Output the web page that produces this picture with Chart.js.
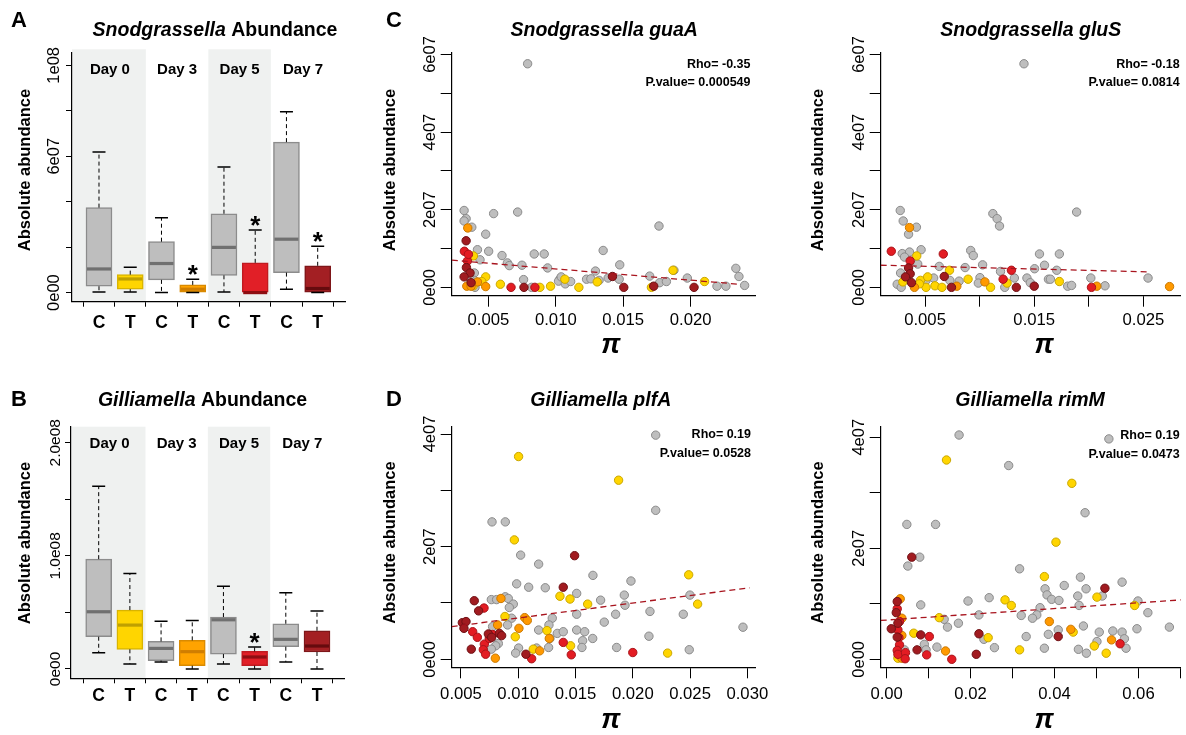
<!DOCTYPE html>
<html><head><meta charset="utf-8">
<script src="https://cdn.jsdelivr.net/npm/chart.js@4.4.1/dist/chart.umd.min.js"></script>
<style>
html,body{margin:0;padding:0;background:#fff;width:1186px;height:735px;overflow:hidden}
canvas{position:absolute;left:0;top:0}
</style></head><body>
<canvas id="cA" width="1186" height="735"></canvas>
<canvas id="cB" width="1186" height="735"></canvas>
<canvas id="cC1" width="1186" height="735"></canvas>
<canvas id="cC2" width="1186" height="735"></canvas>
<canvas id="cD1" width="1186" height="735"></canvas>
<canvas id="cD2" width="1186" height="735"></canvas>
<script>
// ================= DATA =================
const boxGroups = ['C','T','C','T','C','T','C','T'];
const days = ['Day 0','Day 3','Day 5','Day 7'];

// Snodgrassella abundance boxplot stats (per group, in order of boxGroups)
const snodLow  = [0.3e6, 0.3e6, 0,      0,     0.3e6,  0,      1.5e6,  0];
const snodQ1   = [2.8e6, 1.5e6, 5.6e6,  0,     7.6e6,  0,      8.8e6,  0];
const snodMed  = [10.4e6,6.0e6, 12.8e6, 1.5e6, 19.9e6, 0,      23.5e6, 1.8e6];
const snodQ3   = [37.4e6,7.9e6, 22.4e6, 3.4e6, 34.7e6, 13.1e6, 66.2e6, 11.8e6];
const snodHigh = [61.9e6,11.2e6,32.9e6, 5.9e6, 55.3e6, 27.5e6, 79.6e6, 20.4e6];
const snodSig  = [0,0,0,1,0,1,0,1];

// Gilliamella abundance boxplot stats
const gilLow  = [14.4e6, 4.4e6, 6.2e6, 0,      4.4e6,  0,      6.2e6,  0];
const gilQ1   = [28.5e6, 17.4e6,7.4e6, 2.9e6,  13.2e6, 2.9e6,  19.7e6, 15.0e6];
const gilMed  = [50.6e6, 38.8e6,18.2e6,15.3e6, 43.5e6, 10.6e6, 26.2e6, 20.3e6];
const gilQ3   = [97.1e6, 52.1e6,24.4e6,25.3e6, 45.9e6, 15.6e6, 40.0e6, 33.8e6];
const gilHigh = [161.5e6,84.4e6,42.1e6,42.9e6, 73.2e6, 19.4e6, 67.4e6, 51.2e6];
const gilSig  = [0,0,0,0,0,1,0,0];

// tick values and labels
const snodBoxTicks = [0,2e7,4e7,6e7,8e7,1e8];
const snodBoxLabels = ['0e00','','','6e07','','1e08'];
const gilBoxTicks = [0,5e7,1e8,1.5e8,2e8];
const gilBoxLabels = ['0e00','','1.0e08','','2.0e08'];
const cYTicks = [0,1e7,2e7,3e7,4e7,5e7,6e7];
const cYLabels = ['0e00','','2e07','','4e07','','6e07'];
const dYTicks = [0,1e7,2e7,3e7,4e7];
const dYLabels = ['0e00','','2e07','','4e07'];
const guaAXTicks = [0.005,0.010,0.015,0.020];
const guaAXLabels = ['0.005','0.010','0.015','0.020'];
const gluSXTicks = [0.005,0.010,0.015,0.020,0.025];
const gluSXLabels = ['0.005','','0.015','','0.025'];
const plfAXTicks = [0.005,0.010,0.015,0.020,0.025,0.030];
const plfAXLabels = ['0.005','0.010','0.015','0.020','0.025','0.030'];
const rimMXTicks = [0,0.01,0.02,0.03,0.04,0.05,0.06,0.07];
const rimMXLabels = ['0.00','','0.02','','0.04','','0.06',''];

// Scatter: [pi, absolute abundance]; groups: control(gray), T day0(yellow), T day3(orange), T day5(red), T day7(dark red)
const guaA_C = [[0.00791,57.6e6],[0.0032,19.8e6],[0.00335,17.7e6],[0.0032,17.1e6],[0.00377,15.5e6],[0.00539,19.0e6],[0.00717,19.4e6],[0.0048,13.7e6],[0.00419,9.7e6],[0.00502,9.3e6],[0.00438,7.1e6],[0.00601,8.2e6],[0.00641,6.3e6],[0.00655,5.6e6],[0.00749,5.7e6],[0.0084,8.6e6],[0.00914,8.6e6],[0.00939,5.0e6],[0.00761,2.0e6],[0.0082,0],[0.00396,3.7e6],[0.00396,1.8e6],[0.00401,0],[0.0103,2.1e6],[0.0102,1.6e6],[0.0107,0.9e6],[0.0111,1.5e6],[0.01228,2.1e6],[0.0126,2.2e6],[0.01321,1.8e6],[0.01294,4.2e6],[0.01388,2.4e6],[0.01351,9.5e6],[0.0147,2.1e6],[0.01474,5.8e6],[0.01696,2.9e6],[0.01765,15.8e6],[0.0177,1.2e6],[0.0182,1.5e6],[0.01876,4.4e6],[0.01975,2.4e6],[0.02195,0.3e6],[0.02261,0.3e6],[0.02335,4.9e6],[0.02358,2.8e6],[0.0240,0.5e6],[0.0104,2.7e6],[0.0037,1.8e6]];
const guaA_D0 = [[0.00389,8.1e6],[0.0048,2.7e6],[0.00451,1.5e6],[0.00589,0.8e6],[0.00882,0],[0.00961,0.3e6],[0.01067,2.1e6],[0.01171,0],[0.01307,1.4e6],[0.01709,0],[0.01869,4.4e6],[0.02103,1.5e6],[0.00387,0.4e6]];
const guaA_D3 = [[0.00347,15.3e6],[0.00419,1.4e6],[0.0048,0.2e6],[0.0034,0.3e6],[0.00372,0.3e6]];
const guaA_D5 = [[0.00322,9.3e6],[0.00345,6.8e6],[0.00352,8.5e6],[0.00668,0],[0.00845,0]];
const guaA_D7 = [[0.00335,12.0e6],[0.00337,5.1e6],[0.00364,3.7e6],[0.0032,2.7e6],[0.00372,1.2e6],[0.00764,0],[0.0142,2.8e6],[0.01504,0],[0.01726,0.3e6],[0.02025,0]];
const guaA_fit = [[0.00229,7.0e6],[0.0236,0.8e6]];

const gluS_C = [[0.01406,57.6e6],[0.00273,19.8e6],[0.003,17.1e6],[0.00349,13.7e6],[0.00421,15.5e6],[0.01121,19.0e6],[0.0116,17.7e6],[0.01182,15.8e6],[0.01888,19.4e6],[0.00291,8.7e6],[0.00358,9.1e6],[0.00464,9.7e6],[0.00433,6.0e6],[0.00312,7.8e6],[0.00276,3.7e6],[0.00245,0.8e6],[0.00282,0],[0.00333,2.2e6],[0.00579,2.4e6],[0.0063,5.4e6],[0.00727,1.8e6],[0.00812,1.6e6],[0.00867,5.1e6],[0.00918,9.5e6],[0.00942,8.2e6],[0.01027,5.8e6],[0.01003,2.5e6],[0.00988,1.1e6],[0.01191,4.1e6],[0.0123,0],[0.01318,2.4e6],[0.01433,2.4e6],[0.01464,1.2e6],[0.01503,4.8e6],[0.01548,8.6e6],[0.01594,5.7e6],[0.0163,2.1e6],[0.01648,2.1e6],[0.01706,4.4e6],[0.0173,8.6e6],[0.01806,0.3e6],[0.01842,0.5e6],[0.02018,2.4e6],[0.02148,0.4e6],[0.02542,2.4e6],[0.0051,1.8e6]];
const gluS_D0 = [[0.00424,8.1e6],[0.00297,1.4e6],[0.00458,1.8e6],[0.00524,2.7e6],[0.00509,0],[0.00591,0.4e6],[0.00655,0],[0.00724,4.4e6],[0.00894,2.1e6],[0.011,0],[0.01251,1.1e6],[0.0173,1.5e6],[0.00448,0.9e6]];
const gluS_D3 = [[0.00358,15.4e6],[0.00403,0],[0.00791,0.3e6],[0.01048,1.4e6],[0.02073,0.3e6],[0.02739,0.2e6]];
const gluS_D5 = [[0.00191,9.3e6],[0.00364,6.8e6],[0.00667,8.6e6],[0.01215,2.1e6],[0.01291,4.4e6],[0.02024,0]];
const gluS_D7 = [[0.00349,5.0e6],[0.00364,3.5e6],[0.00321,2.7e6],[0.00376,1.2e6],[0.00676,2.8e6],[0.00742,0],[0.01336,0],[0.015,0.3e6]];
const gluS_fit = [[0.00094,5.7e6],[0.02548,4.0e6]];

const plfA_C = [[0.022,39.8e6],[0.022,26.45e6],[0.00771,24.4e6],[0.00887,24.4e6],[0.01021,18.5e6],[0.01178,16.9e6],[0.01652,14.9e6],[0.01984,13.9e6],[0.00986,13.4e6],[0.01091,12.8e6],[0.01236,12.7e6],[0.0151,11.7e6],[0.00765,10.6e6],[0.00811,10.6e6],[0.00887,11.1e6],[0.00913,10.8e6],[0.00957,9.8e6],[0.00922,9.2e6],[0.01719,10.5e6],[0.01926,11.4e6],[0.01932,9.6e6],[0.0215,8.5e6],[0.02441,8.0e6],[0.02499,11.4e6],[0.0151,8.0e6],[0.0185,8.0e6],[0.01297,7.3e6],[0.01268,6.1e6],[0.00942,7.3e6],[0.00907,6.1e6],[0.00776,5.8e6],[0.01178,5.2e6],[0.01341,4.6e6],[0.01393,4.9e6],[0.0151,5.2e6],[0.0158,4.9e6],[0.0165,3.7e6],[0.01751,6.6e6],[0.01562,3.3e6],[0.01556,2.1e6],[0.01277,3.7e6],[0.01265,2.1e6],[0.01003,2.0e6],[0.00977,1.1e6],[0.00826,2.8e6],[0.00803,2.4e6],[0.00765,1.8e6],[0.01859,2.1e6],[0.02141,4.1e6],[0.02493,1.7e6],[0.02962,5.7e6],[0.0116,2.0e6]];
const plfA_D0 = [[0.01003,36.0e6],[0.01876,31.8e6],[0.00966,21.2e6],[0.02488,15.0e6],[0.02566,9.8e6],[0.01364,11.2e6],[0.01452,10.7e6],[0.01606,9.8e6],[0.00884,7.6e6],[0.00974,4.0e6],[0.01251,5.1e6],[0.01457,2.4e6],[0.01131,1.8e6],[0.02304,1.1e6]];
const plfA_D3 = [[0.00849,10.8e6],[0.01056,7.4e6],[0.01079,6.9e6],[0.01006,5.5e6],[0.0082,6.1e6],[0.01271,3.7e6],[0.01187,1.5e6],[0.008,0.2e6]];
const plfA_D5 = [[0.00701,9.1e6],[0.00602,4.9e6],[0.00643,3.9e6],[0.00704,2.7e6],[0.00695,1.7e6],[0.00715,0.9e6],[0.00747,3.7e6],[0.00776,4.4e6],[0.01393,3.0e6],[0.01463,0.8e6],[0.01117,0.1e6],[0.02,1.2e6]];
const plfA_D7 = [[0.00616,10.4e6],[0.00654,8.6e6],[0.01492,18.4e6],[0.01393,12.8e6],[0.00512,6.5e6],[0.00544,6.7e6],[0.00526,5.5e6],[0.00739,4.5e6],[0.00835,4.6e6],[0.00855,4.2e6],[0.00768,3.9e6],[0.0059,1.8e6],[0.01067,0.9e6]];
const plfA_fit = [[0.00419,5.8e6],[0.0302,12.7e6]];

const rimM_C = [[0.01726,40.4e6],[0.05296,39.7e6],[0.02908,34.9e6],[0.04728,26.4e6],[0.00481,24.3e6],[0.01166,24.3e6],[0.00788,18.4e6],[0.00504,16.8e6],[0.03168,16.3e6],[0.03775,12.7e6],[0.04232,13.3e6],[0.04618,14.8e6],[0.04752,12.7e6],[0.05611,13.9e6],[0.03822,11.6e6],[0.03932,10.8e6],[0.04106,10.6e6],[0.04554,11.4e6],[0.04586,9.7e6],[0.05138,11.4e6],[0.05989,10.5e6],[0.06225,8.4e6],[0.06738,5.8e6],[0.01939,10.5e6],[0.02443,11.1e6],[0.02199,8.0e6],[0.03656,9.3e6],[0.03578,8.0e6],[0.03475,7.4e6],[0.03207,7.9e6],[0.00812,9.8e6],[0.0171,6.5e6],[0.01371,7.2e6],[0.0145,5.8e6],[0.00898,2.7e6],[0.00938,1.7e6],[0.01198,2.2e6],[0.02317,3.6e6],[0.02569,2.1e6],[0.03325,4.1e6],[0.03759,2.0e6],[0.03853,4.5e6],[0.04089,5.3e6],[0.04689,6.0e6],[0.0457,1.8e6],[0.0476,1.1e6],[0.05012,3.2e6],[0.05067,4.9e6],[0.0539,5.1e6],[0.05611,4.9e6],[0.05666,3.7e6],[0.05705,2.0e6],[0.05965,5.5e6],[0.00426,1.7e6]];
const rimM_D0 = [[0.01426,35.9e6],[0.04413,31.7e6],[0.04035,21.1e6],[0.03759,14.9e6],[0.02821,10.7e6],[0.02971,9.7e6],[0.05012,11.2e6],[0.0591,9.7e6],[0.01253,7.5e6],[0.00646,4.7e6],[0.02419,3.9e6],[0.04445,4.9e6],[0.04949,2.4e6],[0.03168,1.7e6],[0.05232,1.1e6],[0.00268,0.2e6]];
const rimM_D3 = [[0.00323,10.9e6],[0.00362,7.4e6],[0.00362,4.3e6],[0.03877,6.8e6],[0.04389,5.4e6],[0.05359,3.5e6],[0.01403,1.5e6],[0.00362,0.2e6]];
const rimM_D5 = [[0.00252,9.1e6],[0.00307,6.8e6],[0.00268,5.3e6],[0.00292,3.9e6],[0.00307,2.6e6],[0.00252,1.6e6],[0.00268,0.9e6],[0.00449,1.2e6],[0.00441,0.1e6],[0.01017,4.1e6],[0.00954,0.8e6],[0.01552,0],[0.05563,2.8e6]];
const rimM_D7 = [[0.00599,18.4e6],[0.00252,10.4e6],[0.00229,8.4e6],[0.0011,5.5e6],[0.00268,6.5e6],[0.00252,4.0e6],[0.00812,4.4e6],[0.00725,1.7e6],[0.02199,4.6e6],[0.02136,0.9e6],[0.04089,4.1e6],[0.05201,12.8e6]];
const rimM_fit = [[-0.00142,7.0e6],[0.0701,10.7e6]];

// ================= STYLE / LAYOUT =================
const W = 1186, H = 735;
const FONT = '"Liberation Sans", Arial, Helvetica, sans-serif';
const boxPos = [1,2,3,4,5,6,7,8];
const dayLabelX = [1.35, 3.5, 5.5, 7.53];
const shadeSpans = [[-1, 2.5], [4.5, 6.5]];
const boxFill   = ['#BEBEBE','#FFD500','#BEBEBE','#FFA300','#BEBEBE','#E11F27','#BEBEBE','#A31F23'];
const boxBorder = ['#8C8C8C','#D9B400','#8C8C8C','#D98A00','#8C8C8C','#C01A20','#8C8C8C','#7E1619'];
const boxMedCol = ['#707070','#BFA000','#707070','#D07E00','#707070','#8E0E12','#707070','#650B0E'];
const ptFill   = ['#BEBEBE','#FFD500','#FF9900','#E31C23','#A11B20'];
const ptBorder = ['#8A8A8A','#C9A600','#C97800','#A8141A','#6E1014'];

function txt(ctx, s, x, y, o) {
  o = Object.assign({size:16, weight:'normal', style:'normal', align:'center', baseline:'alphabetic', rot:0, color:'#000'}, o||{});
  ctx.save();
  ctx.font = `${o.style} ${o.weight} ${o.size}px ${FONT}`;
  ctx.fillStyle = o.color; ctx.textAlign = o.align; ctx.textBaseline = o.baseline;
  ctx.translate(x, y); if (o.rot) ctx.rotate(o.rot);
  ctx.fillText(s, 0, 0);
  ctx.restore();
}
function richTitle(ctx, parts, cx, y, size) {
  ctx.save();
  const fonts = parts.map(p => `${p[1] ? 'italic ' : ''}bold ${size}px ${FONT}`);
  const widths = parts.map((p, i) => { ctx.font = fonts[i]; return ctx.measureText(p[0]).width; });
  let x = cx - widths.reduce((a, b) => a + b, 0) / 2;
  ctx.textAlign = 'left'; ctx.textBaseline = 'alphabetic'; ctx.fillStyle = '#000';
  parts.forEach((p, i) => { ctx.font = fonts[i]; ctx.fillText(p[0], x, y); x += widths[i]; });
  ctx.restore();
}
function mkAxis(min, max, ticks, tickLen, position) {
  return {
    type: 'linear', position, min, max, offset: false,
    afterBuildTicks: s => { s.ticks = ticks.map(v => ({value: v})); },
    ticks: {display: false},
    grid: {display: true, drawOnChartArea: false, drawTicks: true, tickLength: tickLen, color: '#000', lineWidth: 1},
    border: {display: true, color: '#000', width: 1.2}
  };
}
function baseOptions(area, xr, yr, xTicks, yTicks, xTL, yTL) {
  return {
    responsive: false, animation: false, devicePixelRatio: 1, events: [],
    layout: {padding: {left: area.L - yTL, top: area.T, right: W - area.R, bottom: H - area.B - xTL}},
    plugins: {legend: {display: false}, tooltip: {enabled: false}},
    scales: {x: mkAxis(xr[0], xr[1], xTicks, xTL, 'bottom'), y: mkAxis(yr[0], yr[1], yTicks, yTL, 'left')}
  };
}

// ================= BOX PLOTS =================
function boxChart(id, cfg) {
  const s = cfg.stats;
  const plugin = {
    id: 'box_' + id,
    beforeDraw(chart) {
      const {ctx, chartArea: a, scales: {x}} = chart;
      ctx.save(); ctx.fillStyle = '#EFF1F0';
      shadeSpans.forEach(([u, v]) => {
        const p0 = Math.max(a.left, x.getPixelForValue(u)), p1 = x.getPixelForValue(v);
        ctx.fillRect(p0, a.top - cfg.shadeExtra, p1 - p0, a.bottom - a.top + cfg.shadeExtra);
      });
      ctx.restore();
    },
    afterDatasetsDraw(chart) {
      const {ctx, scales: {x, y}} = chart;
      ctx.save();
      boxPos.forEach((p, i) => {
        const px = x.getPixelForValue(p);
        const lo = y.getPixelForValue(s.low[i]), q1 = y.getPixelForValue(s.q1[i]), md = y.getPixelForValue(s.med[i]);
        const q3 = y.getPixelForValue(s.q3[i]), hi = y.getPixelForValue(s.high[i]);
        ctx.strokeStyle = '#000'; ctx.lineWidth = 1; ctx.setLineDash([4, 3]);
        ctx.beginPath(); ctx.moveTo(px, q3); ctx.lineTo(px, hi); ctx.moveTo(px, q1); ctx.lineTo(px, lo); ctx.stroke();
        ctx.setLineDash([]); ctx.lineWidth = 1.5;
        ctx.beginPath(); ctx.moveTo(px - 6.5, hi); ctx.lineTo(px + 6.5, hi); ctx.moveTo(px - 6.5, lo); ctx.lineTo(px + 6.5, lo); ctx.stroke();
        ctx.strokeStyle = boxMedCol[i]; ctx.lineWidth = 3.2;
        ctx.beginPath(); ctx.moveTo(px - 12, md); ctx.lineTo(px + 12, md); ctx.stroke();
        if (s.sig[i]) txt(ctx, '*', px, hi + 4, {size: 26, weight: 'bold'});
      });
      ctx.restore();
    },
    afterDraw(chart) {
      const {ctx, chartArea: a, scales: {x, y}} = chart;
      days.forEach((d, i) => txt(ctx, d, x.getPixelForValue(dayLabelX[i]), a.top + 21.6, {size: 15, weight: 'bold'}));
      boxPos.forEach((p, i) => txt(ctx, boxGroups[i], x.getPixelForValue(p), cfg.xLabY, {size: 17.5, weight: 'bold'}));
      cfg.yTicks.forEach((v, i) => { if (cfg.yLabels[i]) txt(ctx, cfg.yLabels[i], cfg.yLabX, y.getPixelForValue(v), {size: cfg.yLabSize, rot: -Math.PI / 2}); });
      txt(ctx, 'Absolute abundance', cfg.yTitle[0], cfg.yTitle[1], {size: 16.5, weight: 'bold', rot: -Math.PI / 2});
      richTitle(ctx, cfg.title, cfg.titlePos[0], cfg.titlePos[1], 19.5);
      txt(ctx, cfg.letter, cfg.letterPos[0], cfg.letterPos[1], {size: 22, weight: 'bold', align: 'left'});
    }
  };
  return new Chart(document.getElementById(id), {
    type: 'bar',
    data: {datasets: [{
      data: boxPos.map((p, i) => ({x: p, y: [s.q1[i], s.q3[i]]})),
      backgroundColor: boxFill, borderColor: boxBorder, borderWidth: 1.5, borderSkipped: false, barThickness: 26
    }]},
    options: baseOptions(cfg.area, cfg.xr, cfg.yr, boxPos, cfg.yTicks, 5, 6),
    plugins: [plugin]
  });
}

boxChart('cA', {
  stats: {low: snodLow, q1: snodQ1, med: snodMed, q3: snodQ3, high: snodHigh, sig: snodSig},
  area: {L: 72, R: 345, T: 52.8, B: 301.7}, xr: [0.136, 8.874], yr: [-4e6, 1.055e8],
  yTicks: snodBoxTicks, yLabels: snodBoxLabels, yLabX: 58.5, yLabSize: 16.5, shadeExtra: 3.5,
  xLabY: 328.3, yTitle: [30, 170], title: [['Snodgrassella', true], [' Abundance', false]], titlePos: [215, 36],
  letter: 'A', letterPos: [11, 26.5]
});
boxChart('cB', {
  stats: {low: gilLow, q1: gilQ1, med: gilMed, q3: gilQ3, high: gilHigh, sig: gilSig},
  area: {L: 71, R: 344, T: 426.7, B: 678.3}, xr: [0.112, 8.866], yr: [-8.24e6, 2.142e8],
  yTicks: gilBoxTicks, yLabels: gilBoxLabels, yLabX: 60, yLabSize: 15.5, shadeExtra: 0,
  xLabY: 701, yTitle: [30, 543], title: [['Gilliamella', true], [' Abundance', false]], titlePos: [202.5, 405.7],
  letter: 'B', letterPos: [11, 406]
});

// ================= SCATTER PLOTS =================
function scatterChart(id, cfg) {
  const groups = cfg.groups;
  const datasets = groups.map((g, gi) => ({
    type: 'scatter', data: g.map(([x, y]) => ({x, y})),
    backgroundColor: ptFill[gi], borderColor: ptBorder[gi], borderWidth: 1,
    pointRadius: 4.2, pointHoverRadius: 4.2, order: 10 - gi
  }));
  datasets.push({
    type: 'line', data: cfg.fit.map(([x, y]) => ({x, y})), borderColor: '#A8141E', borderWidth: 1.3,
    borderDash: [6, 4], pointRadius: 0, fill: false, order: 0
  });
  const plugin = {
    id: 'sc_' + id,
    afterDraw(chart) {
      const {ctx, scales: {x, y}} = chart;
      cfg.yTicks.forEach((v, i) => { if (cfg.yLabels[i]) txt(ctx, cfg.yLabels[i], cfg.area.L - 17, y.getPixelForValue(v), {size: 16.5, rot: -Math.PI / 2}); });
      cfg.xTicks.forEach((v, i) => { if (cfg.xLabels[i]) txt(ctx, cfg.xLabels[i], x.getPixelForValue(v), cfg.xLabY, {size: 16.7}); });
      txt(ctx, 'Absolute abundance', cfg.yTitle[0], cfg.yTitle[1], {size: 16.5, weight: 'bold', rot: -Math.PI / 2});
      txt(ctx, 'π', cfg.piPos[0], cfg.piPos[1], {size: 27, weight: 'bold', style: 'italic'});
      richTitle(ctx, [[cfg.title, true]], cfg.titlePos[0], cfg.titlePos[1], 19.5);
      txt(ctx, cfg.rho, cfg.statR, cfg.statY[0], {size: 12.5, weight: 'bold', align: 'right'});
      txt(ctx, cfg.pval, cfg.statR, cfg.statY[1], {size: 12.5, weight: 'bold', align: 'right'});
      if (cfg.letter) txt(ctx, cfg.letter, cfg.letterPos[0], cfg.letterPos[1], {size: 22, weight: 'bold', align: 'left'});
    }
  };
  return new Chart(document.getElementById(id), {
    type: 'scatter', data: {datasets},
    options: baseOptions(cfg.area, cfg.xr, cfg.yr, cfg.xTicks, cfg.yTicks, 11, 11),
    plugins: [plugin]
  });
}

scatterChart('cC1', {
  groups: [guaA_C, guaA_D0, guaA_D3, guaA_D5, guaA_D7], fit: guaA_fit,
  area: {L: 451.7, R: 755, T: 52.9, B: 295.7}, xr: [0.00228, 0.02477], yr: [-2.15e6, 6.04e7],
  xTicks: guaAXTicks, xLabels: guaAXLabels, yTicks: cYTicks, yLabels: cYLabels,
  xLabY: 325, yTitle: [395, 170], piPos: [610.8, 353.3], title: 'Snodgrassella guaA', titlePos: [604.2, 36],
  rho: 'Rho= -0.35', pval: 'P.value= 0.000549', statR: 750.5, statY: [68, 86.3], letter: 'C', letterPos: [386, 26.5]
});
scatterChart('cC2', {
  groups: [gluS_C, gluS_D0, gluS_D3, gluS_D5, gluS_D7], fit: gluS_fit,
  area: {L: 880.7, R: 1183, T: 52.9, B: 295.7}, xr: [0.00094, 0.02842], yr: [-2.15e6, 6.04e7],
  xTicks: gluSXTicks, xLabels: gluSXLabels, yTicks: cYTicks, yLabels: cYLabels,
  xLabY: 325, yTitle: [823.3, 170], piPos: [1044, 353.3], title: 'Snodgrassella gluS', titlePos: [1030.8, 36],
  rho: 'Rho= -0.18', pval: 'P.value= 0.0814', statR: 1179.7, statY: [68, 86.3]
});
scatterChart('cD1', {
  groups: [plfA_C, plfA_D0, plfA_D3, plfA_D5, plfA_D7], fit: plfA_fit,
  area: {L: 451.7, R: 755, T: 426.7, B: 667.3}, xr: [0.00419, 0.03067], yr: [-1.42e6, 4.13e7],
  xTicks: plfAXTicks, xLabels: plfAXLabels, yTicks: dYTicks, yLabels: dYLabels,
  xLabY: 699.3, yTitle: [395, 542.5], piPos: [610.8, 728.3], title: 'Gilliamella plfA', titlePos: [600.8, 406],
  rho: 'Rho= 0.19', pval: 'P.value= 0.0528', statR: 751, statY: [438, 456.5], letter: 'D', letterPos: [386, 406]
});
scatterChart('cD2', {
  groups: [rimM_C, rimM_D0, rimM_D3, rimM_D5, rimM_D7], fit: rimM_fit,
  area: {L: 880.7, R: 1183, T: 426.7, B: 667.3}, xr: [-0.00142, 0.0701], yr: [-1.44e6, 4.19e7],
  xTicks: rimMXTicks, xLabels: rimMXLabels, yTicks: dYTicks, yLabels: dYLabels,
  xLabY: 699.3, yTitle: [823.3, 542.5], piPos: [1044, 728.3], title: 'Gilliamella rimM', titlePos: [1030, 406],
  rho: 'Rho= 0.19', pval: 'P.value= 0.0473', statR: 1179.7, statY: [439, 457.5]
});
</script>
</body></html>
